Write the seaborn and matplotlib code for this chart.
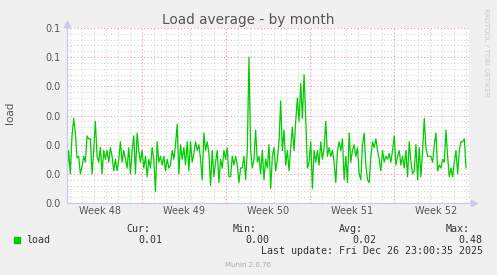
import numpy as np
import pandas as pd
import matplotlib
matplotlib.use("Agg")
import matplotlib.pyplot as plt
import seaborn as sns
from matplotlib.ticker import FixedLocator, FixedFormatter, NullFormatter

# ---------------- data ----------------
title = "Load average - by month"
y_label = "load"
week_labels = ["Week 48", "Week 49", "Week 50", "Week 51", "Week 52"]
week_label_days = [2.75, 9.75, 16.75, 23.75, 30.75]
week_start_days = [6.25, 13.25, 20.25, 27.25]
y_ticks = [0.0, 0.01, 0.02, 0.03, 0.04, 0.05, 0.06]
y_tick_labels = ["0.0", "0.0", "0.0", "0.0", "0.0", "0.1", "0.1"]

# load average, in thousandths, one sample every ~3.3 h
load_milli = [
    10, 18, 10, 23, 29, 24, 15.5, 16, 10, 12.5, 16, 14, 23, 22, 22, 10, 18, 28, 16, 14,
    19, 10, 18, 15, 18, 14, 19, 16, 11, 15, 11, 15, 21, 14, 18, 15, 12, 19, 10, 18,
    23, 10, 24, 18, 14, 18, 12, 16,
    9, 15, 12, 19, 15, 4, 21, 14, 16, 13, 16, 11, 15, 12, 13, 18, 15, 20, 27, 10,
    20, 15, 19, 13, 21, 11, 21, 14, 17, 21, 18, 20, 15, 8, 24, 18, 21, 17, 6, 18,
    9, 14, 18, 7, 15, 12, 18, 15, 19, 9,
    9, 16, 13, 16, 13, 7, 12, 12, 16, 8, 18, 50, 18, 12, 15, 25, 14, 16, 10, 18,
    8, 15, 12, 20, 5, 16, 19, 11, 15, 21, 35, 18, 25, 13, 18, 11, 19, 26, 18, 28,
    36, 28, 41, 29, 44, 29, 12, 14, 21, 5,
    18, 14, 18, 13, 21, 15, 19, 28, 16, 19, 16, 18, 14, 7, 18, 21, 18, 22, 8, 16,
    7, 24, 14, 18, 20, 16, 19, 10, 8, 20, 24, 13, 8, 7, 16, 21, 19, 22, 18, 15,
    11, 18, 14, 16, 15, 17, 14, 18, 23,
    13, 16, 18, 13, 16, 12, 18, 9, 21, 14, 10, 11, 20, 8, 19, 9, 18, 29, 19, 16,
    16, 16, 14, 20, 24, 11, 13, 12, 15, 14, 25, 16, 9, 12, 9, 14, 18, 10, 18, 21,
    21, 22, 12,
]
data_span_days = 33.25
x_span_days = 33.5

legend_name = "load"
stats_headers = ["Cur:", "Min:", "Avg:", "Max:"]
stats_values = ["0.01", "0.00", "0.02", "0.48"]
last_update = "Last update: Fri Dec 26 23:00:35 2025"
version = "Munin 2.0.76"
watermark = "RRDTOOL / TOBI OETIKER"

# ---------------- figure ----------------
sns.set_style("white")
plt.rcParams["font.family"] = ["DejaVu Sans"]

W, H = 497, 275
fig = plt.figure(figsize=(W / 100, H / 100), dpi=100, facecolor="#F0F0F0")
L, R, T, B = 67, 469, 28, 203
ax = fig.add_axes([L / W, 1 - B / H, (R - L) / W, (B - T) / H])
ax.set_facecolor("white")

n = len(load_milli)
days = np.arange(n) * (data_span_days / (n - 1))
df = pd.DataFrame({"day": days, "load": np.array(load_milli) / 1000.0})

sns.lineplot(data=df, x="day", y="load", ax=ax, color="#00CC00",
             linewidth=0.9, zorder=4)

ax.set_xlim(0, x_span_days)
ax.set_ylim(0, 0.06)

text_col = "#555555"
grid_minor = dict(color="#D4D4D4", linestyle=(0, (1, 2)), linewidth=0.8)
grid_major = dict(color="#EE9999", linestyle=(0, (1, 2)), linewidth=0.8)

# horizontal grid
ax.yaxis.set_major_locator(FixedLocator(y_ticks))
ax.yaxis.set_major_formatter(FixedFormatter(y_tick_labels))
minor_y = [v / 1000 for v in range(2, 61, 2) if v % 10 != 0]
ax.yaxis.set_minor_locator(FixedLocator(minor_y))
ax.yaxis.set_minor_formatter(NullFormatter())
ax.grid(axis="y", which="minor", zorder=1, **grid_minor)
ax.grid(axis="y", which="major", zorder=2, **grid_major)

# vertical grid: days (minor) and week boundaries (major)
day_lines = [d + 0.25 for d in range(0, 34) if d + 0.25 not in week_start_days]
for d in day_lines:
    ax.axvline(d, zorder=1, **grid_minor)
for d in week_start_days:
    ax.axvline(d, zorder=2, **grid_major)

ax.xaxis.set_major_locator(FixedLocator(week_label_days))
ax.xaxis.set_major_formatter(FixedFormatter(week_labels))
ax.xaxis.set_minor_locator(FixedLocator(day_lines + week_start_days))

ax.tick_params(axis="x", which="major", length=0, pad=2.5, labelsize=7, labelcolor=text_col)
ax.tick_params(axis="x", which="minor", length=2, width=0.6, color="#BBBBBB", direction="out")
ax.tick_params(axis="y", which="both", length=2, width=0.6, color="#BBBBBB", direction="out")
ax.tick_params(axis="y", which="major", pad=2.5, labelsize=7, labelcolor=text_col)

ax.set_xlabel("")
ax.set_ylabel("")

for s in ["top", "right"]:
    ax.spines[s].set_visible(False)
axis_col = "#C8C8F0"
for s in ["left", "bottom"]:
    ax.spines[s].set_color(axis_col)
    ax.spines[s].set_linewidth(0.9)
    ax.spines[s].set_zorder(5)
ax.plot([1.0, 1.012], [0, 0], color=axis_col, lw=0.9, transform=ax.transAxes, clip_on=False)
ax.plot([1.012], [0], marker=">", ms=4, color=axis_col, transform=ax.transAxes, clip_on=False)
ax.plot([0, 0], [1.0, 1.025], color=axis_col, lw=0.9, transform=ax.transAxes, clip_on=False)
ax.plot([0], [1.025], marker="^", ms=4, color=axis_col, transform=ax.transAxes, clip_on=False)

def fx(px):
    return px / W

def fy(py):
    return 1 - py / H

fig.text(fx(248), fy(24), title, ha="center", va="baseline", fontsize=9.8, color=text_col)
fig.text(fx(10), fy(113), y_label, ha="center", va="center", rotation=90,
         fontsize=7.5, color=text_col)
fig.text(fx(486), fy(52.5), watermark, ha="center", va="center", rotation=270,
         fontsize=5, color="#CCCCCC")

mono = ["DejaVu Sans Mono"]
fig.patches.append(plt.Rectangle((fx(14), fy(242.5)), 6 / W, 6 / H,
                                 transform=fig.transFigure, color="#00CC00"))
fig.text(fx(26.5), fy(243), legend_name, ha="left", va="baseline",
         fontsize=7.2, family=mono, color="#333333")
header_right = [150, 257, 363, 470]
value_right = [162.7, 269, 376, 482.7]
for hx, h in zip(header_right, stats_headers):
    fig.text(fx(hx), fy(231.7), h, ha="right", va="baseline", fontsize=7.2,
             family=mono, color="#333333")
for vx, v in zip(value_right, stats_values):
    fig.text(fx(vx), fy(243), v, ha="right", va="baseline", fontsize=7.2,
             family=mono, color="#333333")
fig.text(fx(482.7), fy(254.3), last_update, ha="right", va="baseline", fontsize=7.2,
         family=mono, color="#333333")
fig.text(fx(248), fy(267), version, ha="center", va="baseline", fontsize=5,
         color="#AAAAAA")

fig.savefig("out.png", dpi=100, facecolor=fig.get_facecolor())
